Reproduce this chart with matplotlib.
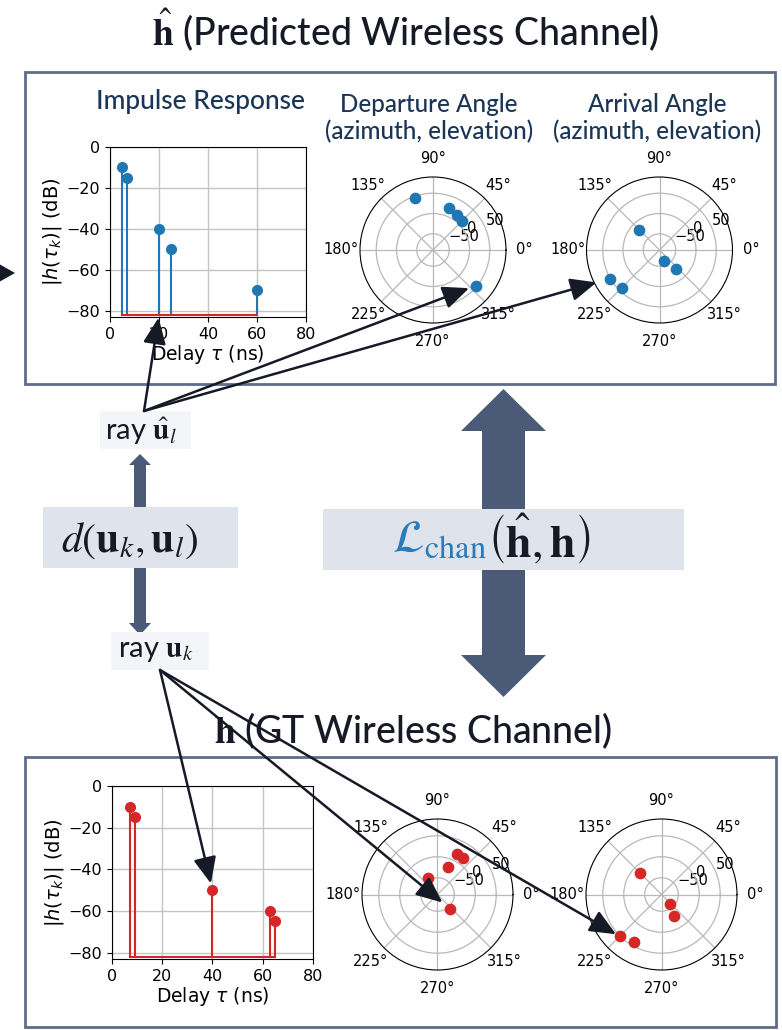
import numpy as np
import matplotlib
matplotlib.use('Agg')
import matplotlib.pyplot as plt
from matplotlib.patches import Rectangle, Polygon, ConnectionPatch

W, H = 782, 1030

# predicted channel (blue)
pred_delay = [5, 7, 20, 25, 60]
pred_gain = [-10, -15, -40, -50, -70]
pred_dep_az = [109, 69, 55, 45, 320]
pred_dep_el = [45, 20, 14, 12, 47]
pred_arr_az = [135, 294, 311, 210, 225]
pred_arr_el = [-20, -60, -28, 51, 42]

# ground truth channel (red)
gt_delay = [7, 9, 40, 63, 65]
gt_gain = [-10, -15, -50, -60, -65]
gt_dep_az = [64, 55, 70, 119, 311]
gt_dep_el = [17, 15, -19, -44, -45]
gt_arr_az = [135, 310, 300, 225, 240]
gt_arr_el = [-19, -60, -30, 51, 40]

delay_ticks = [0, 20, 40, 60, 80]
gain_ticks = [0, -20, -40, -60, -80]
el_ticks = [-50, 0, 50]

SLATE = '#4b5a76'
EDGE = '#5d6c87'
PANEL = '#dfe4ec'
NAVY = '#1b3556'
INK = '#161a26'
SANS = 'Lato'

fig = plt.figure(figsize=(W / 100, H / 100), dpi=100)


def px_axes(x0, y0, x1, y1, **kw):
    return fig.add_axes([x0 / W, 1 - y1 / H, (x1 - x0) / W, (y1 - y0) / H], **kw)


# background layer in pixel units, under the plots
bg = px_axes(0, 0, W, H, zorder=-1)
bg.set_xlim(0, W)
bg.set_ylim(H, 0)
bg.axis('off')


def impulse(ax, delay, gain, c):
    ml, sl, bl = ax.stem(delay, gain, linefmt=c + '-', markerfmt=c + 'o',
                         basefmt='C3-', bottom=-82)
    ml.set_markersize(7)
    ax.set_xlim(0, 80)
    ax.set_ylim(-83, 0)
    ax.set_xticks(delay_ticks)
    ax.set_yticks(gain_ticks)
    ax.grid(True, color='#c4c4c4', lw=1.0)
    ax.set_axisbelow(True)
    ax.tick_params(labelsize=11.5)
    ax.set_xlabel(r'Delay $\tau$ (ns)', fontsize=13.5, labelpad=1)
    ax.set_ylabel(r'$|h(\tau_k)|$ (dB)', fontsize=14, labelpad=2)


def polar(ax, az, el, c):
    ax.scatter(np.deg2rad(az), el, s=55, color=c, zorder=3)
    ax.set_rlim(-90, 90)
    ax.set_rticks(el_ticks)
    ax.grid(True, color='#b8b8b8', lw=0.9)
    ax.tick_params(labelsize=10.5, pad=3)
    ax.set_facecolor('none')


# predicted panel
ax_ir = px_axes(110, 147, 306, 317)
impulse(ax_ir, pred_delay, pred_gain, 'C0')
ax_dep = px_axes(360, 177, 506, 323, projection='polar')
polar(ax_dep, pred_dep_az, pred_dep_el, 'C0')
ax_arr = px_axes(586, 177, 733, 323, projection='polar')
polar(ax_arr, pred_arr_az, pred_arr_el, 'C0')

# ground truth panel
ax_ir2 = px_axes(112, 786, 313, 959)
impulse(ax_ir2, gt_delay, gt_gain, 'C3')
ax_dep2 = px_axes(362, 819, 513, 970, projection='polar')
polar(ax_dep2, gt_dep_az, gt_dep_el, 'C3')
ax_arr2 = px_axes(586, 819, 737, 970, projection='polar')
polar(ax_arr2, gt_arr_az, gt_arr_el, 'C3')

# panel frames
bg.add_patch(Rectangle((25, 72), 750, 312, fill=False, ec=EDGE, lw=2))
bg.add_patch(Rectangle((25, 757), 751, 270, fill=False, ec=EDGE, lw=2))

# titles
bg.text(406, 30, r'$\hat{\mathbf{h}}$ (Predicted Wireless Channel)', ha='center', va='center',
        fontsize=27, color=INK, family=SANS, weight='medium', math_fontfamily='stix')
bg.text(413, 731, r'$\mathbf{h}$ (GT Wireless Channel)', ha='center', va='center',
        fontsize=27, color=INK, family=SANS, weight='medium', math_fontfamily='stix')
bg.text(200, 102, 'Impulse Response', ha='center', va='center', fontsize=19,
        color=NAVY, family=SANS, weight='medium')
bg.text(429, 118, 'Departure Angle\n(azimuth, elevation)', ha='center', va='center',
        fontsize=17.5, color=NAVY, family=SANS, weight='medium', linespacing=1.2)
bg.text(657, 118, 'Arrival Angle\n(azimuth, elevation)', ha='center', va='center',
        fontsize=17.5, color=NAVY, family=SANS, weight='medium', linespacing=1.2)

# arrow coming in from the left
bg.add_patch(Polygon([(-8, 260), (15, 273), (-8, 286)], color=INK, lw=0))


def double_arrow(x, half_shaft, half_head, top, head_top, head_bot, bot):
    pts = [(x, top), (x + half_head, head_top), (x + half_shaft, head_top),
           (x + half_shaft, head_bot), (x + half_head, head_bot), (x, bot),
           (x - half_head, head_bot), (x - half_shaft, head_bot),
           (x - half_shaft, head_top), (x - half_head, head_top)]
    bg.add_patch(Polygon(pts, closed=True, color=SLATE, lw=0))


double_arrow(503.5, 21.5, 42.5, 389, 431, 655, 697)
double_arrow(140, 6, 11, 454, 465, 623, 635)

# labels between the panels
bg.add_patch(Rectangle((100, 411), 91, 38, color='#f3f5f8', lw=0))
bg.text(141, 431, r'ray $\hat{\mathbf{u}}_l$', ha='center', va='center', fontsize=21,
        color=INK, family=SANS, math_fontfamily='stix')
bg.add_patch(Rectangle((111, 632), 98, 38, color='#f3f5f8', lw=0))
bg.text(156, 651, r'ray $\mathbf{u}_k$', ha='center', va='center', fontsize=21,
        color=INK, family=SANS, math_fontfamily='stix')

bg.add_patch(Rectangle((43, 507), 195, 61, color=PANEL, lw=0))
bg.text(130, 540, r'$d(\mathbf{u}_k,\mathbf{u}_l)$', ha='center', va='center',
        fontsize=30, color=INK, math_fontfamily='stix')

bg.add_patch(Rectangle((323, 509), 361, 61, color=PANEL, lw=0))
bg.text(487, 540, r'$\mathcal{L}_{\mathrm{chan}}$', ha='right', va='center',
        fontsize=33, color='#2a7bbb', math_fontfamily='stix')
bg.text(487, 540, r'$\left(\hat{\mathbf{h}},\mathbf{h}\right)$', ha='left', va='center',
        fontsize=33, color=INK, math_fontfamily='stix')


# rays pointing at the matching channel taps
def ray(start, ax, target, shrink):
    arrow = ConnectionPatch(start, target, coordsA=bg.transData, coordsB=ax.transData,
                            arrowstyle='-|>,head_length=0.8,head_width=0.35',
                            mutation_scale=20, lw=1.8, color=INK,
                            shrinkA=0, shrinkB=shrink, zorder=5)
    fig.add_artist(arrow)


u_hat = (144, 411)
ray(u_hat, ax_ir, (20, -82), 2)
ray(u_hat, ax_dep, (np.deg2rad(pred_dep_az[4]), pred_dep_el[4]), 5)
ray(u_hat, ax_arr, (np.deg2rad(pred_arr_az[3]), pred_arr_el[3]), 10)

u_k = (160, 670)
ray(u_k, ax_ir2, (gt_delay[2], gt_gain[2]), 5)
ray(u_k, ax_dep2, (np.deg2rad(gt_dep_az[4]), gt_dep_el[4]), 7)
ray(u_k, ax_arr2, (np.deg2rad(gt_arr_az[3]), gt_arr_el[3]), 3)

fig.savefig('out.png', dpi=100)
